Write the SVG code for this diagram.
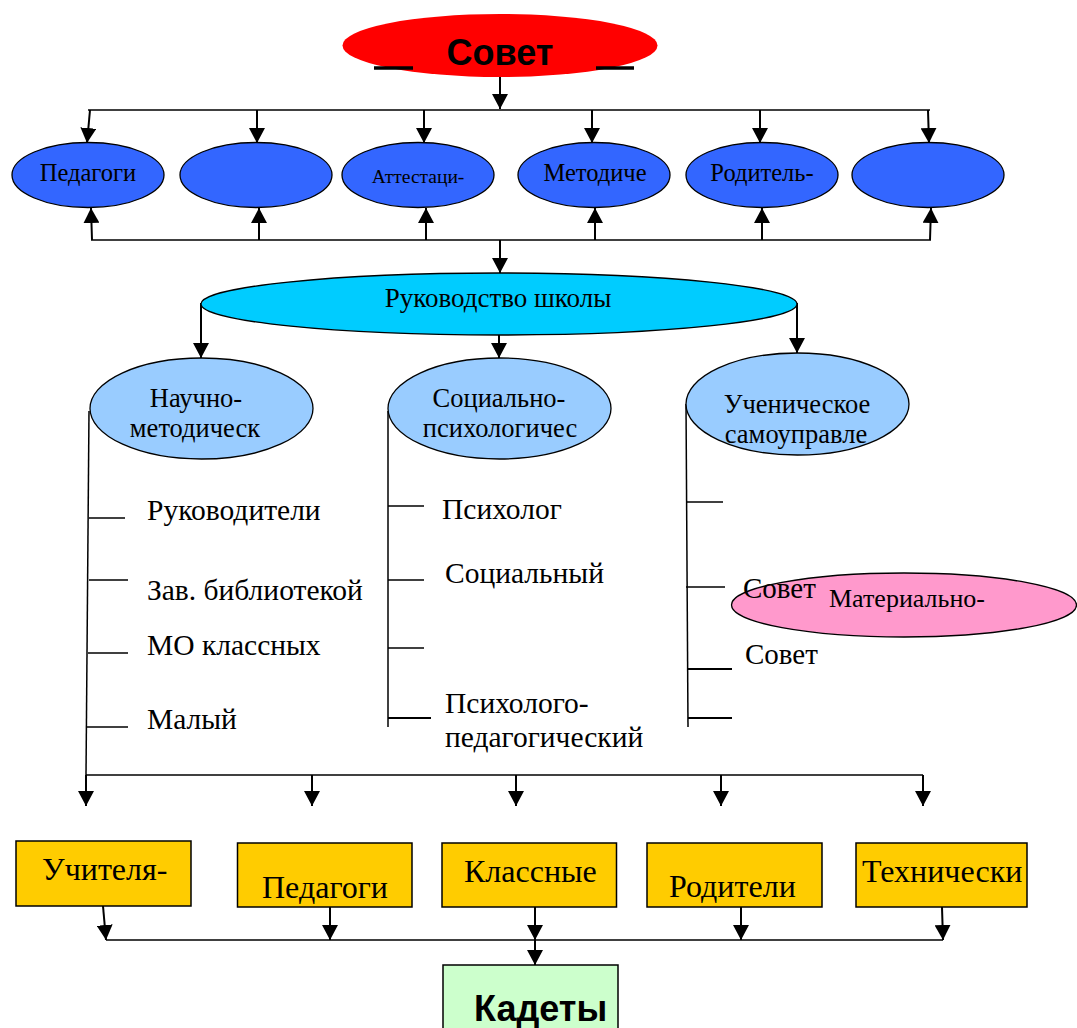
<svg xmlns="http://www.w3.org/2000/svg" width="1077" height="1028" viewBox="0 0 1077 1028">
<style>
.bg{fill:#ffffff}
.n{stroke:#000;stroke-width:1.3}
.blue{fill:#3366FF}
.lb{fill:#99CCFF}
.box{fill:#FFCC00;stroke:#000;stroke-width:1.5}
.t{font-family:"Liberation Serif","Times New Roman",serif;fill:#000}
.b{font-family:"Liberation Sans",Arial,sans-serif;font-weight:bold;fill:#000}
.c{stroke:#000;stroke-width:2;fill:none}
.h{stroke:#000;stroke-width:1.5;fill:none}
.a{marker-end:url(#ah)}
.lst{font-size:29.5px}
.bx{font-size:32px}
</style>
<defs>
<marker id="ah" markerUnits="userSpaceOnUse" markerWidth="16" markerHeight="16" refX="15" refY="8" orient="auto">
<path d="M0,0 L15,8 L0,16 z" fill="#000"/>
</marker>
</defs>
<rect class="bg" x="0" y="0" width="1077" height="1028"/>

<g id="connectors">
<line class="c a" x1="500" y1="77" x2="500" y2="109"/>
<line class="h" x1="88" y1="110" x2="930" y2="110"/>
<line class="c a" x1="90" y1="110" x2="87" y2="143"/>
<line class="c a" x1="257" y1="110" x2="257" y2="143"/>
<line class="c a" x1="424" y1="110" x2="424" y2="143"/>
<line class="c a" x1="592" y1="110" x2="592" y2="143"/>
<line class="c a" x1="760" y1="110" x2="760" y2="143"/>
<line class="c a" x1="928" y1="110" x2="929" y2="143"/>
<line class="h" x1="91" y1="240" x2="931" y2="240"/>
<line class="c a" x1="92" y1="240" x2="91" y2="208"/>
<line class="c a" x1="259" y1="240" x2="259" y2="208"/>
<line class="c a" x1="426" y1="240" x2="426" y2="208"/>
<line class="c a" x1="595" y1="240" x2="595" y2="208"/>
<line class="c a" x1="762" y1="240" x2="762" y2="208"/>
<line class="c a" x1="930" y1="240" x2="931" y2="208"/>
<line class="c a" x1="500" y1="240" x2="500" y2="273"/>
<line class="c a" x1="201" y1="303" x2="201" y2="358"/>
<line class="c a" x1="499" y1="335" x2="499" y2="358"/>
<line class="c a" x1="797" y1="303" x2="797" y2="353"/>
<line class="h" x1="89" y1="411" x2="86" y2="775"/>
<line class="h" x1="89" y1="518" x2="125" y2="518"/>
<line class="h" x1="89" y1="580" x2="128" y2="580"/>
<line class="h" x1="88" y1="653" x2="128" y2="653"/>
<line class="h" x1="87" y1="727" x2="128" y2="727"/>
<line class="h" x1="388" y1="411" x2="388" y2="727"/>
<line class="h" x1="388" y1="506" x2="424" y2="506"/>
<line class="h" x1="388" y1="580" x2="424" y2="580"/>
<line class="h" x1="388" y1="648" x2="424" y2="648"/>
<line class="c" x1="388" y1="718" x2="431" y2="718"/>
<line class="h" x1="686" y1="404" x2="688" y2="727"/>
<line class="h" x1="686" y1="502" x2="723" y2="502"/>
<line class="h" x1="686" y1="587" x2="725" y2="587"/>
<line class="c" x1="687" y1="669" x2="732" y2="669"/>
<line class="c" x1="688" y1="718" x2="732" y2="718"/>
<line class="h" x1="86" y1="775" x2="923" y2="775"/>
<line class="c a" x1="86" y1="775" x2="86" y2="806"/>
<line class="c a" x1="312" y1="775" x2="312" y2="806"/>
<line class="c a" x1="516" y1="775" x2="516" y2="806"/>
<line class="c a" x1="721" y1="775" x2="721" y2="806"/>
<line class="c a" x1="923" y1="775" x2="923" y2="806"/>
<line class="h" x1="106" y1="940" x2="943" y2="940"/>
<line class="c a" x1="103" y1="906" x2="106" y2="940"/>
<line class="c a" x1="330" y1="907" x2="330" y2="940"/>
<line class="c a" x1="535" y1="907" x2="535" y2="940"/>
<line class="c a" x1="741" y1="907" x2="741" y2="940"/>
<line class="c a" x1="942" y1="907" x2="943" y2="940"/>
<line class="c a" x1="535" y1="940" x2="535" y2="965"/>
</g>

<g id="sovet">
<ellipse cx="500" cy="45.5" rx="157.5" ry="31.5" fill="#FF0000"/>
<text class="b" x="500" y="65" font-size="36" text-anchor="middle">Совет</text>
<line x1="374" y1="68" x2="413" y2="68" stroke="#000" stroke-width="3.5"/>
<line x1="596" y1="68" x2="634" y2="68" stroke="#000" stroke-width="3.5"/>
</g>

<g id="e1"><ellipse class="n blue" cx="88" cy="175" rx="76" ry="32.5"/><text class="t" x="88" y="181" font-size="24.5" text-anchor="middle">Педагоги</text></g>
<g id="e2"><ellipse class="n blue" cx="256" cy="175" rx="76" ry="32.5"/></g>
<g id="e3"><ellipse class="n blue" cx="418" cy="175" rx="76" ry="32.5"/><text class="t" x="418" y="183" font-size="19.5" text-anchor="middle">Аттестаци-</text></g>
<g id="e4"><ellipse class="n blue" cx="594" cy="175" rx="76" ry="32.5"/><text class="t" x="595" y="181" font-size="24.5" text-anchor="middle">Методиче</text></g>
<g id="e5"><ellipse class="n blue" cx="762" cy="175" rx="76" ry="32.5"/><text class="t" x="762" y="181" font-size="24.5" text-anchor="middle">Родитель-</text></g>
<g id="e6"><ellipse class="n blue" cx="928" cy="175" rx="76" ry="32.5"/></g>

<g id="rukovodstvo"><ellipse class="n" fill="#00CCFF" cx="499" cy="304" rx="298" ry="31"/><text class="t" x="498" y="307" font-size="27" text-anchor="middle">Руководство школы</text></g>

<g id="nauchno"><ellipse class="n lb" cx="201.5" cy="408.5" rx="111.5" ry="50.5"/><text class="t" font-size="26.5" text-anchor="middle"><tspan x="196" y="407">Научно-</tspan><tspan x="195" y="437">методическ</tspan></text></g>
<g id="social"><ellipse class="n lb" cx="499.5" cy="408.5" rx="111.5" ry="50.5"/><text class="t" font-size="26.5" text-anchor="middle"><tspan x="499" y="407">Социально-</tspan><tspan x="500" y="437">психологичес</tspan></text></g>
<g id="uchen"><ellipse class="n lb" cx="797.5" cy="404" rx="111.5" ry="51"/><text class="t" font-size="26.5" text-anchor="middle"><tspan x="797" y="413">Ученическое</tspan><tspan x="796" y="443">самоуправле</tspan></text></g>

<g id="left-list">
<text class="t lst" x="147" y="520">Руководители</text>
<text class="t lst" x="147" y="600">Зав. библиотекой</text>
<text class="t lst" x="147" y="655">МО классных</text>
<text class="t lst" x="147" y="729">Малый</text>
</g>
<g id="mid-list">
<text class="t lst" x="442" y="519">Психолог</text>
<text class="t lst" x="445" y="583">Социальный</text>
<text class="t lst" x="445" y="713">Психолого-</text>
<text class="t lst" x="445" y="747">педагогический</text>
</g>
<g id="material"><ellipse class="n" fill="#FF99CC" cx="904" cy="605" rx="172.5" ry="32"/><text class="t" x="829" y="607" font-size="26">Материально-</text></g>
<g id="right-list">
<text class="t" x="743" y="598" font-size="29">Совет</text>
<text class="t" x="745" y="664" font-size="29">Совет</text>
</g>

<g id="b1"><rect class="box" x="16" y="841" width="175" height="65"/><text class="t bx" x="42" y="880">Учителя-</text></g>
<g id="b2"><rect class="box" x="237.5" y="843" width="174.5" height="64"/><text class="t bx" x="262" y="898">Педагоги</text></g>
<g id="b3"><rect class="box" x="442" y="843" width="174.5" height="64"/><text class="t bx" x="464" y="882">Классные</text></g>
<g id="b4"><rect class="box" x="647" y="843" width="175" height="64"/><text class="t bx" x="669" y="897">Родители</text></g>
<g id="b5"><rect class="box" x="856" y="843" width="171" height="64"/><text class="t bx" x="862" y="882">Технически</text></g>
<g id="kadety"><rect x="443" y="965" width="175" height="70" fill="#CCFFCC" stroke="#000" stroke-width="1.5"/><text class="b" x="474" y="1021" font-size="36">Кадеты</text></g>
</svg>
